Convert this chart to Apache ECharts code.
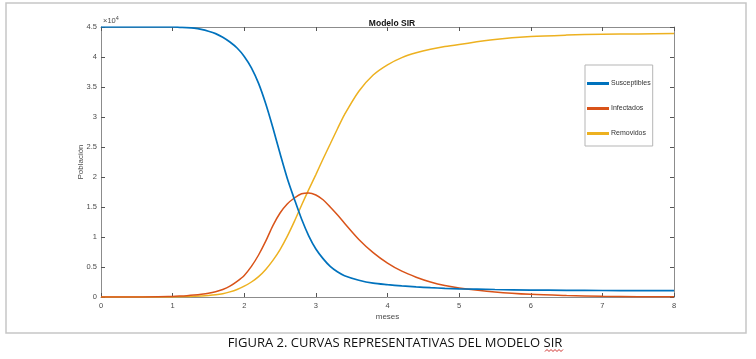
<!DOCTYPE html>
<html>
<head>
<meta charset="utf-8">
<script src="https://cdn.jsdelivr.net/npm/echarts@6/dist/echarts.min.js"></script>
<style>
html,body{margin:0;padding:0;background:#fff;}
#c{width:756px;height:359px;}
</style>
</head>
<body>
<div id="c"></div>
<script>
// months (x values)
var months = [0, 0.5,
  1.0, 1.1, 1.2, 1.3, 1.4, 1.5, 1.6, 1.7, 1.8, 1.9, 2.0, 2.1, 2.2, 2.3, 2.4, 2.5, 2.6, 2.7, 2.8, 2.9, 3.0, 3.1, 3.2, 3.3, 3.4,
  3.6, 3.8, 4.0, 4.2, 4.4, 4.6, 4.8, 5.0,
  5.5, 6.0, 6.5, 7.0, 7.5, 8.0];
// population values (persons)
var susceptibles = [45000, 45000,
  45000, 44950, 44900, 44800, 44600, 44300, 43900, 43300, 42500, 41500, 40100, 38200, 35600, 32200, 28200, 23900, 19800, 16300, 13000, 10200, 8000, 6400, 5100, 4200, 3550,
  2800, 2300, 2050, 1850, 1680, 1550, 1450, 1370,
  1250, 1160, 1110, 1080, 1070, 1060];
var infectados = [0, 5,
  100, 150, 220, 320, 450, 620, 880, 1250, 1800, 2600, 3600, 5100, 7000, 9300, 11900, 14000, 15500, 16500, 17200, 17350, 17000, 16200, 15000, 13700, 12300,
  9600, 7400, 5650, 4300, 3300, 2500, 1900, 1500,
  850, 450, 250, 120, 60, 30];
var removidos = [0, 0,
  20, 40, 70, 110, 160, 240, 360, 550, 850, 1250, 1800, 2500, 3400, 4600, 6100, 7900, 10100, 12600, 15300, 17900, 20400, 23000, 25500, 28000, 30400,
  34300, 37000, 38700, 39900, 40700, 41300, 41750, 42100,
  42900, 43400, 43650, 43800, 43850, 43900];
var seriesNames = ['Susceptibles', 'Infectados', 'Removidos'];

function pairs(ys){ return months.map(function(t,i){ return [t, ys[i]]; }); }

var chart = echarts.init(document.getElementById('c'), null, {renderer:'canvas'});
var labelFont = '"Liberation Sans", Arial, sans-serif';
var axisCol = '#8c8c8c';
var txtCol = '#4a4a4a';

var baseAxis = {
  min: 0,
  axisLine: {show:true, onZero:false, lineStyle:{color:axisCol, width:1}},
  axisTick: {show:true, inside:true, length:4, lineStyle:{color:'#555', width:1}},
  splitLine: {show:false}
};

// zigzag "spellcheck" underline under SIR
var zig = [];
for (var i = 0; i <= 9; i++) { zig.push([545 + i*2, (i % 2) ? 349.5 : 351.5]); }

chart.setOption({
  animation: false,
  backgroundColor: '#fff',
  title: {
    text: 'Modelo SIR',
    left: 387, top: 14, textAlign: 'center',
    textStyle: {fontFamily: labelFont, fontSize: 8.5, fontWeight: 'bold', color: '#111'}
  },
  legend: {
    data: seriesNames,
    orient: 'vertical',
    left: 585, top: 65,
    icon: 'rect',
    itemWidth: 22, itemHeight: 3,
    itemGap: 18,
    padding: [15, 2, 9, 2],
    borderColor: '#b5b5b5', borderWidth: 1,
    textStyle: {fontFamily: labelFont, fontSize: 7, color: '#333', padding:[0,0,0,-3]}
  },
  grid: {left: 101, top: 27, right: 82, bottom: 62, containLabel: false},
  xAxis: [
    Object.assign({}, baseAxis, {
      type: 'value', max: 8, interval: 1, position: 'bottom',
      axisLabel: {fontFamily: labelFont, fontSize: 7.5, color: txtCol, margin: 5},
      name: 'meses', nameLocation: 'middle', nameGap: 16, nameMoveOverlap: false,
      nameTextStyle: {fontFamily: labelFont, fontSize: 8, color: txtCol}
    }),
    Object.assign({}, baseAxis, {
      type: 'value', max: 8, interval: 1, position: 'top',
      axisLabel: {show:false}
    })
  ],
  yAxis: [
    Object.assign({}, baseAxis, {
      type: 'value', max: 45000, interval: 5000, position: 'left',
      axisLabel: {fontFamily: labelFont, fontSize: 7.5, color: txtCol, margin: 4,
        formatter: function(v){ return String(v/10000); }},
      name: 'Población', nameLocation: 'middle', nameGap: 16, nameMoveOverlap: false,
      nameTextStyle: {fontFamily: labelFont, fontSize: 8, color: txtCol}
    }),
    Object.assign({}, baseAxis, {
      type: 'value', max: 45000, interval: 5000, position: 'right',
      axisLabel: {show:false}
    })
  ],
  series: [
    {name: seriesNames[0], type:'line', data: pairs(susceptibles), showSymbol:false, smooth:0.3,
     lineStyle:{color:'#0072BD', width:1.7}, itemStyle:{color:'#0072BD'}, z:3},
    {name: seriesNames[1], type:'line', data: pairs(infectados), showSymbol:false, smooth:0.3,
     lineStyle:{color:'#D95319', width:1.5}, itemStyle:{color:'#D95319'}, z:2},
    {name: seriesNames[2], type:'line', data: pairs(removidos), showSymbol:false, smooth:0.3,
     lineStyle:{color:'#EDB120', width:1.5}, itemStyle:{color:'#EDB120'}, z:1}
  ],
  graphic: [
    {type:'rect', shape:{x:6, y:3, width:740, height:330}, style:{fill:null, stroke:'#c6c6c6', lineWidth:1.5}, silent:true},
    {type:'text', left: 103, top: 15, style:{
      text:'{a|×10}{b|4}', rich:{
        a:{fontFamily:labelFont, fontSize:7.5, fill:txtCol},
        b:{fontFamily:labelFont, fontSize:5.5, fill:txtCol, verticalAlign:'top', padding:[0,0,5,0]}
      }}},
    {type:'text', x: 395, y: 343, style:{
      text:'FIGURA 2. CURVAS REPRESENTATIVAS DEL MODELO SIR',
      fontFamily:'"Open Sans", sans-serif', fontSize:13, fill:'#111',
      align:'center', verticalAlign:'middle'}},
    {type:'polyline', shape:{points: zig}, style:{stroke:'#d0312d', lineWidth:1, fill:null}, silent:true}
  ]
});
</script>
</body>
</html>
